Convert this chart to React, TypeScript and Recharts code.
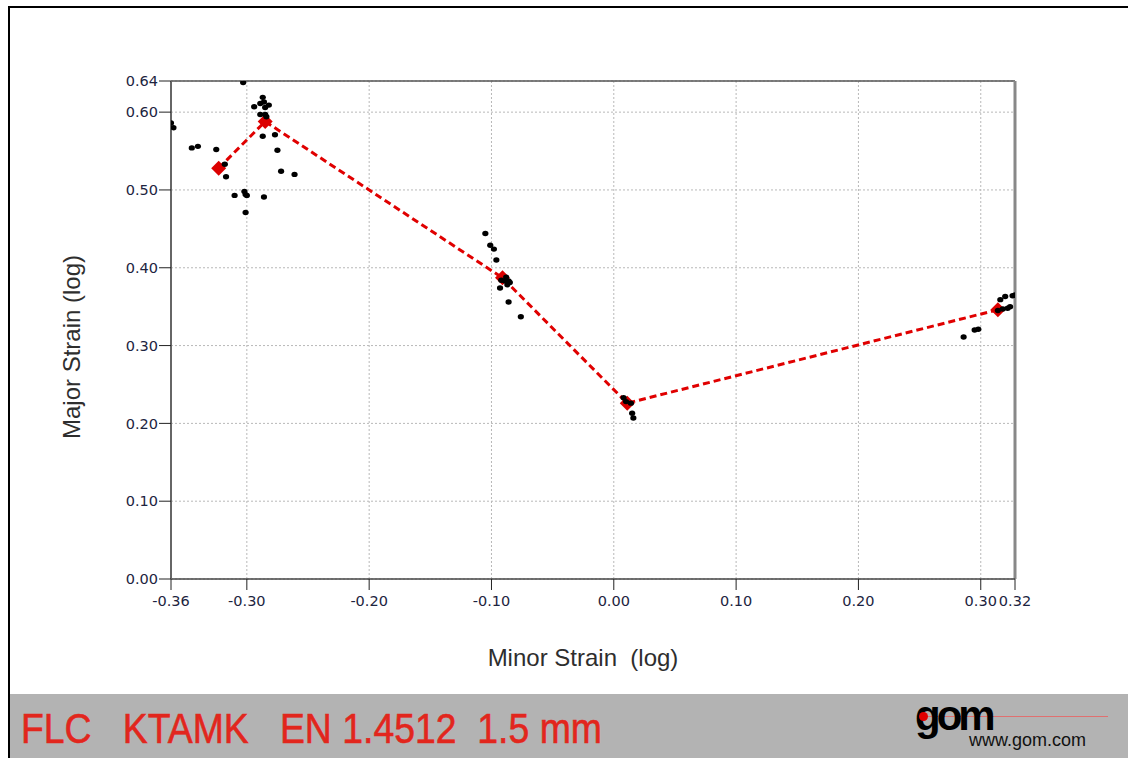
import React from "react";
import {
    ScatterChart,
    Scatter,
    XAxis,
    YAxis,
    CartesianGrid,
    ReferenceLine,
    Label,
} from "recharts";

// FLC curve (red diamonds, dashed line)
const flcMinor = [-0.323, -0.285, -0.091, 0.011, 0.314];
const flcMajor = [0.528, 0.588, 0.387, 0.226, 0.346];

// measured section points (black dots)
const ptMinor = [
    -0.303, -0.362, -0.36, -0.294, -0.287, -0.286, -0.289, -0.282, -0.285, -0.289,
    -0.285, -0.284, -0.287, -0.277, -0.345, -0.34, -0.325, -0.275, -0.318, -0.317,
    -0.272, -0.261, -0.31, -0.302, -0.301, -0.3, -0.286, -0.301,
    -0.105, -0.101, -0.098, -0.096, -0.088, -0.086, -0.089, -0.087, -0.092, -0.093,
    -0.085, -0.086, -0.076,
    0.008, 0.01, 0.014, 0.015, 0.016,
    0.316, 0.32, 0.326, 0.314, 0.318, 0.322, 0.324, 0.295, 0.298, 0.286, 0.328,
];
const ptMajor = [
    0.638, 0.586, 0.58, 0.607, 0.619, 0.613, 0.611, 0.609, 0.606, 0.597,
    0.597, 0.594, 0.569, 0.571, 0.554, 0.556, 0.552, 0.551, 0.533, 0.517,
    0.524, 0.52, 0.493, 0.498, 0.494, 0.493, 0.491, 0.471,
    0.444, 0.429, 0.424, 0.41, 0.388, 0.383, 0.383, 0.378, 0.384, 0.374,
    0.381, 0.356, 0.337,
    0.233, 0.228, 0.226, 0.213, 0.207,
    0.359, 0.363, 0.364, 0.345, 0.347, 0.348, 0.35, 0.32, 0.321, 0.311, 0.365,
];

const xTicks = [-0.362, -0.3, -0.2, -0.1, 0, 0.1, 0.2, 0.3, 0.328];
const xTickLabels = ["-0.36", "-0.30", "-0.20", "-0.10", "0.00", "0.10", "0.20", "0.30", "0.32"];
const yTicks = [0, 0.1, 0.2, 0.3, 0.4, 0.5, 0.6, 0.64];
const yTickLabels = ["0.00", "0.10", "0.20", "0.30", "0.40", "0.50", "0.60", "0.64"];

const flcData = flcMinor.map((x, i) => ({ x, y: flcMajor[i] }));
const pointData = ptMinor.map((x, i) => ({ x, y: ptMajor[i] }));

const tickStyle = { fontFamily: "'DejaVu Sans', sans-serif", fontSize: 14.5, fill: "#1d2440" };

const Diamond = (props: any) => {
    const { cx, cy } = props;
    const s = 7.5;
    return <path d={`M${cx},${cy - s}L${cx + s},${cy}L${cx},${cy + s}L${cx - s},${cy}Z`} fill="#dc0000" />;
};

const Dot = (props: any) => <ellipse cx={props.cx} cy={props.cy} rx={3.1} ry={2.7} fill="#000" />;

export default function App() {
    return (
        <div style={{ position: "relative", width: 1128, height: 758, background: "#fff", overflow: "hidden" }}>
            <style>{`body{margin:0}`}</style>
            <div style={{ position: "absolute", left: 8, top: 6, width: 1120, height: 2, background: "#000" }} />
            <div style={{ position: "absolute", left: 8, top: 6, width: 2, height: 752, background: "#000" }} />

            <div style={{ position: "absolute", left: 0, top: 0 }}>
                <ScatterChart width={1128} height={694} margin={{ top: 81, right: 113, left: 111, bottom: 75 }}>
                    <CartesianGrid stroke="#b8b8b8" strokeDasharray="2 2" />
                    <XAxis
                        type="number"
                        dataKey="x"
                        domain={[-0.362, 0.328]}
                        ticks={xTicks}
                        allowDataOverflow
                        interval={0}
                        tickFormatter={(v: number) => xTickLabels[xTicks.indexOf(v)] ?? String(v)}
                        tick={tickStyle}
                        tickSize={11}
                        tickMargin={6}
                        height={40}
                        axisLine={{ stroke: "#444", strokeWidth: 1.5 }}
                        tickLine={{ stroke: "#222" }}
                    >
                        <Label
                            content={() => (
                                <text x={583} y={666} textAnchor="middle" fontFamily="'Liberation Sans', Arial, sans-serif" fontSize={24} fill="#2e2e2e" style={{ whiteSpace: "pre" }}>
                                    {"Minor Strain \u00a0(log)"}
                                </text>
                            )}
                        />
                    </XAxis>
                    <YAxis
                        type="number"
                        dataKey="y"
                        domain={[0, 0.64]}
                        ticks={yTicks}
                        allowDataOverflow
                        interval={0}
                        tickFormatter={(v: number) => yTickLabels[yTicks.indexOf(v)] ?? String(v)}
                        tick={tickStyle}
                        tickSize={12}
                        tickMargin={1}
                        width={60}
                        axisLine={{ stroke: "#666", strokeWidth: 2 }}
                        tickLine={{ stroke: "#222" }}
                    >
                        <Label
                            content={() => (
                                <text x={80} y={347} textAnchor="middle" transform="rotate(-90 80 347)" fontFamily="'Liberation Sans', Arial, sans-serif" fontSize={24} fill="#2e2e2e">
                                    Major Strain (log)
                                </text>
                            )}
                        />
                    </YAxis>
                    <ReferenceLine y={0.64} stroke="#555" strokeWidth={1.5} />
                    <ReferenceLine x={0.328} stroke="#888" strokeWidth={3} />
                    <Scatter
                        data={flcData}
                        shape={Diamond}
                        line={{ stroke: "#e00000", strokeWidth: 3, strokeDasharray: "7 4" }}
                        isAnimationActive={false}
                    />
                    <Scatter data={pointData} shape={Dot} isAnimationActive={false} />
                </ScatterChart>
            </div>

            <div style={{ position: "absolute", left: 10, top: 694, width: 1118, height: 64, background: "#b3b3b3" }}>
                <div
                    style={{
                        position: "absolute",
                        left: 11,
                        top: 11,
                        fontFamily: "'Liberation Sans', Arial, sans-serif",
                        fontSize: 42,
                        color: "#e2261d",
                        whiteSpace: "pre",
                        lineHeight: "48px",
                        transform: "scaleX(0.89)",
                        transformOrigin: "0 0",
                        WebkitTextStroke: "0.6px #e2261d",
                    }}
                >
                    {"FLC   KTAMK   EN 1.4512  1.5 mm"}
                </div>
                <div style={{ position: "absolute", left: 913, top: 22, width: 185, height: 1, background: "#e07070" }} />
                <div
                    style={{
                        position: "absolute",
                        left: 905,
                        top: -3,
                        fontFamily: "'Liberation Sans', Arial, sans-serif",
                        fontWeight: "bold",
                        fontSize: 42,
                        letterSpacing: -4,
                        color: "#000",
                        lineHeight: "50px",
                    }}
                >
                    gom
                </div>
                <div style={{ position: "absolute", left: 909, top: 18, width: 9, height: 9, borderRadius: 5, background: "#e00000" }} />
                <div
                    style={{
                        position: "absolute",
                        left: 959,
                        top: 36,
                        fontFamily: "'Liberation Sans', Arial, sans-serif",
                        fontSize: 18,
                        color: "#111",
                        lineHeight: "20px",
                    }}
                >
                    www.gom.com
                </div>
            </div>
        </div>
    );
}
